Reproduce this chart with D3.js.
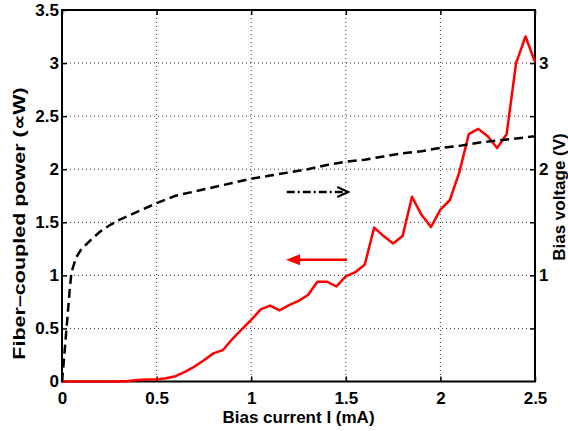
<!DOCTYPE html>
<html><head><meta charset="utf-8">
<script src="https://cdn.jsdelivr.net/npm/d3@7"></script>
<style>
body{margin:0;background:#fff}
text{font-family:"Liberation Sans",Arial,Helvetica,sans-serif;font-weight:bold;fill:#000}
</style>
</head><body>
<svg id="c" width="568" height="431"></svg>
<script>
// Power (left axis) vs bias current
const powerI = [0,0.05,0.1,0.15,0.2,0.25,0.3,0.35,0.4,0.45,0.5,0.55,0.6,0.65,0.7,0.75,0.8,0.85,0.9,0.95,1.0,1.05,1.1,1.15,1.2,1.25,1.3,1.35,1.4,1.45,1.5,1.55,1.6,1.65,1.7,1.75,1.8,1.85,1.9,1.95,2.0,2.05,2.1,2.15,2.2,2.25,2.3,2.35,2.4,2.45,2.5];
const powerP = [0,0,0,0,0,0,0,0.005,0.015,0.02,0.02,0.03,0.05,0.09,0.14,0.2,0.265,0.295,0.4,0.49,0.58,0.68,0.715,0.67,0.72,0.76,0.815,0.94,0.94,0.895,0.99,1.03,1.10,1.45,1.37,1.30,1.37,1.74,1.57,1.455,1.62,1.71,1.97,2.33,2.38,2.31,2.20,2.33,3.0,3.25,3.01];
// Bias voltage (right axis) vs bias current
const voltI = [0,0.01,0.02,0.03,0.04,0.05,0.075,0.1,0.15,0.2,0.25,0.3,0.4,0.5,0.6,0.7,0.8,0.9,1.0,1.1,1.2,1.3,1.4,1.5,1.6,1.7,1.8,1.9,2.0,2.1,2.2,2.3,2.4,2.5];
const voltV = [0,0.2,0.42,0.63,0.85,1.03,1.17,1.24,1.33,1.41,1.47,1.52,1.60,1.68,1.75,1.79,1.83,1.87,1.91,1.94,1.97,2.00,2.04,2.07,2.09,2.12,2.15,2.17,2.20,2.22,2.25,2.27,2.29,2.31];
// Ticks
const xTicks = [0,0.5,1,1.5,2,2.5];
const yTicks = [0,0.5,1,1.5,2,2.5,3,3.5];
const y2Ticks = [0.5,1,1.5,2,2.5,3];
const y2Labels = {1:"1",2:"2",3:"3"};
// Annotation arrows (data units): [I start, I end], level
const voltArrowI = [1.188,1.513]; const voltArrowY = 1.785;
const powArrowI = [1.506,1.184]; const powArrowY = 1.146;

const svg = d3.select("#c");
const L=62,R=535,T=10,B=381.5;
const x = d3.scaleLinear().domain([0,2.5]).range([L,R]);
const y = d3.scaleLinear().domain([0,3.5]).range([B,T]);
const y2 = d3.scaleLinear().domain([0,3.5]).range([B,T]);

// grid
const g = svg.append("g");
g.selectAll(".gx").data(xTicks.filter(d=>d>0&&d<2.5)).enter().append("line")
 .attr("x1",d=>x(d)).attr("x2",d=>x(d)).attr("y1",T).attr("y2",B)
 .attr("stroke","#333").attr("stroke-width",1).attr("stroke-dasharray","1,3");
g.selectAll(".gy").data(yTicks.filter(d=>d>0&&d<3.5)).enter().append("line")
 .attr("x1",L).attr("x2",R).attr("y1",d=>y(d)).attr("y2",d=>y(d))
 .attr("stroke","#333").attr("stroke-width",1).attr("stroke-dasharray","1,3");

// axes
const ax = svg.append("g").attr("transform",`translate(0,${B})`)
 .call(d3.axisBottom(x).tickValues(xTicks).tickSizeInner(-5).tickSizeOuter(0).tickPadding(10).tickFormat(d3.format("")));
const axT = svg.append("g").attr("transform",`translate(0,${T})`)
 .call(d3.axisTop(x).tickValues(xTicks).tickSizeInner(-5).tickSizeOuter(0).tickFormat(""));
const ay = svg.append("g").attr("transform",`translate(${L},0)`)
 .call(d3.axisLeft(y).tickValues(yTicks).tickSizeInner(-5).tickSizeOuter(0).tickPadding(3).tickFormat(d3.format("")));
const ay2 = svg.append("g").attr("transform",`translate(${R},0)`)
 .call(d3.axisRight(y2).tickValues(y2Ticks).tickSizeInner(-5).tickSizeOuter(0).tickPadding(4).tickFormat(d=>y2Labels[d]||""));
[ax,axT,ay,ay2].forEach(a=>{
  a.select(".domain").remove();
  a.selectAll("line").attr("stroke","#000").attr("stroke-width",1.5);
  a.selectAll("text").style("font-size","17px").style("font-family","'Liberation Sans',Arial,sans-serif").style("font-weight","bold").attr("fill","#000");
});

// frame
svg.append("rect").attr("x",L).attr("y",T).attr("width",R-L).attr("height",B-T)
 .attr("fill","none").attr("stroke","#000").attr("stroke-width",2);

// curves
const lineP = d3.line().x((d,i)=>x(powerI[i])).y(d=>y(d));
svg.append("path").attr("d",lineP(powerP)).attr("fill","none").attr("stroke","#ff0000").attr("stroke-width",2.5).attr("stroke-linejoin","round");
const lineV = d3.line().x((d,i)=>x(voltI[i])).y(d=>y2(d));
svg.append("path").attr("d",lineV(voltV)).attr("fill","none").attr("stroke","#000").attr("stroke-width",2.5).attr("stroke-dasharray","9,5");

// arrows
const vx0=x(voltArrowI[0]), vx1=x(voltArrowI[1]), vy=y2(voltArrowY);
svg.append("line").attr("x1",vx0).attr("x2",vx1).attr("y1",vy).attr("y2",vy)
 .attr("stroke","#000").attr("stroke-width",2.5).attr("stroke-dasharray","8,3,2,3");
svg.append("path").attr("d",`M${vx1-11},${vy-5}L${vx1},${vy}L${vx1-11},${vy+5}`)
 .attr("fill","none").attr("stroke","#000").attr("stroke-width",2);
const px0=x(powArrowI[0]), px1=x(powArrowI[1]), py=y(powArrowY);
svg.append("line").attr("x1",px0).attr("x2",px1+8).attr("y1",py).attr("y2",py)
 .attr("stroke","#ff0000").attr("stroke-width",2.5);
svg.append("path").attr("d",`M${px1},${py}L${px1+14},${py-5.5}L${px1+14},${py+5.5}Z`)
 .attr("fill","#ff0000");

// axis titles
svg.append("text").attr("x",(L+R)/2).attr("y",423).attr("text-anchor","middle").style("font-size","17px").text("Bias current I (mA)");
const yl = svg.append("text").attr("text-anchor","middle").style("font-size","17px").text("Fiber–coupled power (∝W)");
const ylLen = yl.node().getComputedTextLength() || 205;
yl.attr("transform",`translate(25,223.5) rotate(-90) scale(${272/ylLen},1)`);
svg.append("text").attr("transform","translate(565,197) rotate(-90)").attr("text-anchor","middle").style("font-size","17px").text("Bias voltage (V)");
</script>
</body></html>
